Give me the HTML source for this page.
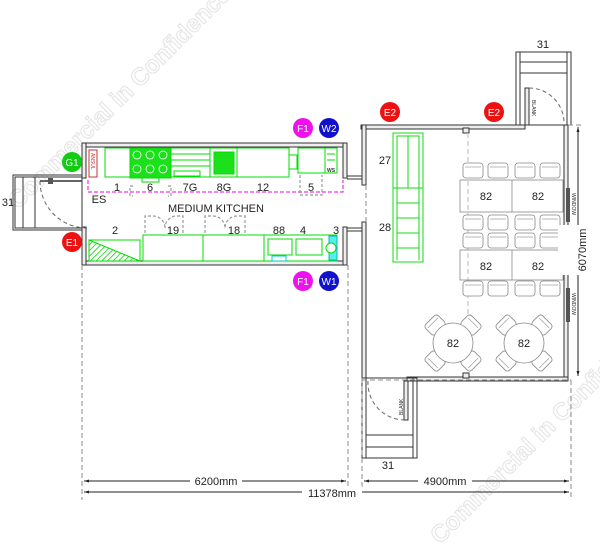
<!DOCTYPE html>
<html><head><meta charset="utf-8"><style>
html,body{margin:0;padding:0;background:#fff}
svg{display:block}
text{font-family:"Liberation Sans",Arial,sans-serif}
</style></head><body>
<svg width="600" height="552" viewBox="0 0 600 552" xmlns="http://www.w3.org/2000/svg">
<defs>
<marker id="ar" viewBox="0 0 10 10" refX="10" refY="5" markerWidth="8" markerHeight="5" orient="auto-start-reverse"><path d="M0,2 L10,5 L0,8 z" fill="#222"/></marker>
<pattern id="hat" width="4" height="4" patternUnits="userSpaceOnUse" patternTransform="rotate(45)"><line x1="0" y1="0" x2="0" y2="4" stroke="#0c0" stroke-width="1.5"/></pattern>
<g id="chair"><rect x="0" y="0" width="20" height="15" rx="3" fill="#fff" stroke="#888" stroke-width="0.8"/><line x1="2" y1="4" x2="18" y2="4" stroke="#888" stroke-width="0.6"/></g>
<g id="dchair"><rect x="-9" y="-7" width="18" height="14" rx="3" fill="#fff" stroke="#888" stroke-width="0.8"/><line x1="-7" y1="-3" x2="7" y2="-3" stroke="#888" stroke-width="0.6"/></g>
</defs>

<!-- watermarks -->
<text x="0" y="0" transform="translate(18,210) rotate(-45)" font-size="24" font-weight="bold" fill="none" stroke="#e3e3e3" stroke-width="1">Commercial in Confidence</text>
<text x="0" y="0" transform="translate(440,545) rotate(-45)" font-size="24" font-weight="bold" fill="none" stroke="#e3e3e3" stroke-width="1">Commercial in Confidence</text>

<!-- ===== KITCHEN ===== -->
<g fill="#fff" stroke="#333" stroke-width="1">
<rect x="82" y="143" width="265" height="4" fill="#eee"/>
<rect x="82" y="261" width="265" height="4" fill="#eee"/>
<rect x="82" y="143" width="4" height="35" fill="#eee"/>
<rect x="82" y="227" width="4" height="38" fill="#eee"/>
<rect x="343" y="143" width="4" height="35" fill="#eee"/>
<rect x="343" y="227" width="4" height="38" fill="#eee"/>
<line x1="347" y1="176" x2="362" y2="176"/><line x1="347" y1="179" x2="362" y2="179"/>
<line x1="347" y1="228" x2="362" y2="228"/><line x1="347" y1="231" x2="362" y2="231"/>
</g>
<!-- left stair -->
<g fill="none" stroke="#333" stroke-width="1">
<rect x="13" y="175" width="69" height="55"/>
<rect x="15" y="177" width="67" height="51"/>
<line x1="23" y1="177" x2="23" y2="228"/><line x1="35" y1="177" x2="35" y2="228"/>
<line x1="40" y1="181" x2="82" y2="181" stroke-width="1.5"/>
<path d="M40,181 A47,47 0 0 0 87,228" stroke="#666" stroke-dasharray="4,3"/>
</g>
<rect x="48" y="178" width="5" height="6" fill="#555"/>

<!-- top equipment -->
<g fill="#fff" stroke="#0d0" stroke-width="1">
<rect x="105" y="148" width="25" height="29"/>
<rect x="130" y="148" width="41" height="30" fill="#1de01d"/>
<rect x="142" y="178" width="17" height="4"/>
<rect x="171" y="148" width="39" height="29"/>
<line x1="171" y1="154" x2="210" y2="154"/><line x1="171" y1="160" x2="210" y2="160"/><line x1="171" y1="166" x2="210" y2="166"/>
<rect x="174" y="171" width="26" height="5"/>
<rect x="210" y="148" width="27" height="29"/>
<rect x="214" y="152" width="20" height="22" fill="#1de01d"/>
<rect x="237" y="148" width="52" height="29"/>
<rect x="289" y="155" width="8" height="14"/>
<rect x="298" y="148" width="27" height="25"/>
<rect x="325" y="148" width="12" height="25"/>
<line x1="327" y1="154" x2="335" y2="154"/><line x1="327" y1="160" x2="335" y2="160"/>
</g>
<g fill="none" stroke="#fff" stroke-width="0.8">
<circle cx="137" cy="155" r="4"/><circle cx="150" cy="155" r="4"/><circle cx="163" cy="155" r="4"/>
<circle cx="137" cy="169" r="4"/><circle cx="150" cy="169" r="4"/><circle cx="163" cy="169" r="4"/>
</g>
<rect x="89" y="150" width="8" height="27" fill="#fff" stroke="#c33" stroke-width="1"/>
<text x="0" y="0" transform="translate(91,153) rotate(90)" font-size="5" fill="#c33">ANSUL</text>
<text x="331" y="172" font-size="5" text-anchor="middle" fill="#333" font-weight="bold">WS</text>
<!-- pink dashed -->
<path d="M88,180 V192 H343 V180" fill="none" stroke="#e0e" stroke-width="1" stroke-dasharray="4,2"/>
<g fill="none" stroke="#999" stroke-width="1.2" stroke-dasharray="3,2">
<path d="M133,186 h-3 v10 h3"/><path d="M168,186 h3 v10 h-3"/>
<path d="M300,175 v20 h22 v-20"/>
</g>
<g font-size="11" fill="#222" text-anchor="middle">
<text x="117" y="191">1</text><text x="150" y="191">6</text><text x="190" y="191">7G</text>
<text x="224" y="191">8G</text><text x="263" y="191">12</text><text x="311" y="191">5</text>
<text x="99" y="203">ES</text>
<text x="216" y="212" font-size="11">MEDIUM KITCHEN</text>
<text x="115" y="234">2</text><text x="173" y="234">19</text><text x="234" y="234">18</text>
<text x="279" y="234">88</text><text x="303" y="234">4</text><text x="336" y="234">3</text>
</g>
<!-- door swings -->
<g fill="none" stroke="#999" stroke-width="1.2" stroke-dasharray="3,2">
<path d="M145,233 V216 H153 A12,12 0 0 1 165,228"/><path d="M183,233 V216 H175 A12,12 0 0 0 165,228"/>
<path d="M205,233 V216 H213 A12,12 0 0 1 225,228"/><path d="M245,233 V216 H237 A12,12 0 0 0 225,228"/>
</g>
<!-- bottom equipment -->
<g fill="#fff" stroke="#0d0" stroke-width="1">
<rect x="89" y="240" width="51" height="21"/>
<path d="M89,240 L140,261 L89,261 Z" fill="url(#hat)"/>
<rect x="143" y="235" width="60" height="26"/>
<rect x="203" y="235" width="61" height="26"/>
<rect x="264" y="235" width="73" height="26"/>
<rect x="268" y="239" width="24" height="16"/>
<rect x="296" y="239" width="26" height="16"/>
<rect x="329" y="236" width="8" height="24" fill="#5ee" stroke="#0bb"/>
<circle cx="331" cy="248" r="5" fill="#fff"/>
<rect x="272" y="256" width="14" height="5" stroke="#0cc"/>
</g>

<!-- circles -->
<g font-size="10" fill="#fff" text-anchor="middle">
<circle cx="72" cy="162" r="10" fill="#1c1"/><text x="72" y="166">G1</text>
<circle cx="72" cy="242" r="10" fill="#e11"/><text x="72" y="246">E1</text>
<circle cx="303" cy="128" r="10" fill="#e1e"/><text x="303" y="132">F1</text>
<circle cx="329" cy="128" r="10" fill="#11c"/><text x="329" y="132">W2</text>
<circle cx="303" cy="281" r="10" fill="#e1e"/><text x="303" y="285">F1</text>
<circle cx="329" cy="281" r="10" fill="#11c"/><text x="329" y="285">W1</text>
<circle cx="390" cy="112" r="10" fill="#e11"/><text x="390" y="116">E2</text>
<circle cx="494" cy="112" r="10" fill="#e11"/><text x="494" y="116">E2</text>
</g>

<!-- ===== DINING ===== -->
<g fill="#eee" stroke="#333" stroke-width="1">
<rect x="361" y="125" width="164" height="4"/>
<rect x="362" y="125" width="4" height="60"/>
<rect x="362" y="222" width="4" height="156"/>
<rect x="564" y="125" width="4" height="255"/>
<rect x="407" y="377" width="161" height="4"/>
<rect x="463" y="128" width="6" height="5"/>
<rect x="463" y="373" width="6" height="5"/>
</g>
<g fill="none" stroke="#333" stroke-width="1">
<rect x="516" y="52" width="55" height="73"/>
<line x1="520" y1="52" x2="520" y2="125"/><line x1="567" y1="52" x2="567" y2="125"/>
<line x1="520" y1="62" x2="567" y2="62"/><line x1="520" y1="73" x2="567" y2="73"/>
<rect x="525" y="88" width="4" height="37" fill="#eee"/>
<path d="M529,88 A35,35 0 0 1 564,123" stroke="#666" stroke-dasharray="4,3"/>
<rect x="362" y="378" width="55" height="80"/>
<line x1="366" y1="378" x2="366" y2="458"/><line x1="413" y1="378" x2="413" y2="458"/>
<line x1="366" y1="435" x2="413" y2="435"/><line x1="366" y1="447" x2="413" y2="447"/>
<rect x="404" y="381" width="4" height="39" fill="#eee"/>
<path d="M368,381 A37,37 0 0 0 404,420" stroke="#666" stroke-dasharray="4,3"/>
</g>
<text x="0" y="0" transform="translate(532,100) rotate(90)" font-size="5" fill="#333">BLANK</text>
<text x="0" y="0" transform="translate(403,415) rotate(-90)" font-size="5" fill="#333">BLANK</text>
<rect x="566" y="188" width="4" height="34" fill="#555"/>
<rect x="566" y="288" width="4" height="34" fill="#555"/>
<text x="0" y="0" transform="translate(572,193) rotate(90)" font-size="5" fill="#333">WINDOW</text>
<text x="0" y="0" transform="translate(572,293) rotate(90)" font-size="5" fill="#333">WINDOW</text>
<g stroke="#888" stroke-width="1" stroke-dasharray="5,3" fill="none">
<line x1="468" y1="133" x2="468" y2="373" stroke="#bbb"/>
<line x1="362" y1="380" x2="571" y2="380"/>
<line x1="568" y1="125" x2="584" y2="125"/>
<line x1="82" y1="265" x2="82" y2="500"/>
<line x1="348" y1="265" x2="348" y2="490"/>
<line x1="362" y1="378" x2="362" y2="490"/>
<line x1="571" y1="380" x2="571" y2="500"/>
<line x1="366" y1="185" x2="366" y2="222"/>
</g>
<g fill="#fff" stroke="#1d1" stroke-width="1">
<rect x="393" y="133" width="30" height="129"/>
<rect x="397" y="136" width="22" height="52"/>
<line x1="408" y1="136" x2="408" y2="188"/>
<line x1="393" y1="188" x2="423" y2="188"/>
<line x1="397" y1="203" x2="419" y2="203"/><line x1="397" y1="218" x2="419" y2="218"/>
<line x1="397" y1="233" x2="419" y2="233"/><line x1="397" y1="248" x2="419" y2="248"/>
<line x1="397" y1="188" x2="397" y2="260"/><line x1="419" y1="188" x2="419" y2="260"/>
</g>
<g font-size="11" fill="#222" text-anchor="middle">
<text x="385" y="164">27</text><text x="385" y="231">28</text>
</g>
<g fill="none" stroke="#888" stroke-width="0.8">
<rect x="460" y="180" width="103" height="32"/><line x1="512" y1="180" x2="512" y2="212"/>
<rect x="460" y="250" width="103" height="30"/><line x1="512" y1="250" x2="512" y2="280"/>
</g>
<use href="#chair" x="463" y="163"/><use href="#chair" x="488" y="163"/><use href="#chair" x="515" y="163"/><use href="#chair" x="540" y="163"/>
<use href="#chair" x="463" y="215"/><use href="#chair" x="488" y="215"/><use href="#chair" x="515" y="215"/><use href="#chair" x="540" y="215"/>
<use href="#chair" x="463" y="233"/><use href="#chair" x="488" y="233"/><use href="#chair" x="515" y="233"/><use href="#chair" x="540" y="233"/>
<use href="#chair" x="463" y="281"/><use href="#chair" x="488" y="281"/><use href="#chair" x="515" y="281"/><use href="#chair" x="540" y="281"/>
<g font-size="11" fill="#222" text-anchor="middle">
<text x="486" y="200">82</text><text x="538" y="200">82</text>
<text x="486" y="270">82</text><text x="538" y="270">82</text>
</g>
<g>
<use href="#dchair" transform="translate(435,325) rotate(-45)"/><use href="#dchair" transform="translate(471,325) rotate(45)"/>
<use href="#dchair" transform="translate(435,361) rotate(-135)"/><use href="#dchair" transform="translate(471,361) rotate(135)"/>
<circle cx="453" cy="343" r="20" fill="#fff" stroke="#888" stroke-width="0.8"/>
<use href="#dchair" transform="translate(506,325) rotate(-45)"/><use href="#dchair" transform="translate(542,325) rotate(45)"/>
<use href="#dchair" transform="translate(506,361) rotate(-135)"/><use href="#dchair" transform="translate(542,361) rotate(135)"/>
<circle cx="524" cy="343" r="20" fill="#fff" stroke="#888" stroke-width="0.8"/>
</g>
<g font-size="11" fill="#222" text-anchor="middle">
<text x="453" y="347">82</text><text x="524" y="347">82</text>
<text x="8" y="206">31</text><text x="543" y="48">31</text><text x="388" y="469">31</text>
</g>

<g stroke="#222" stroke-width="1" fill="none">
<line x1="578" y1="127" x2="578" y2="376" marker-start="url(#ar)" marker-end="url(#ar)"/>
<line x1="84" y1="481" x2="346" y2="481" marker-start="url(#ar)" marker-end="url(#ar)"/>
<line x1="364" y1="481" x2="569" y2="481" marker-start="url(#ar)" marker-end="url(#ar)"/>
<line x1="84" y1="492" x2="569" y2="492" marker-start="url(#ar)" marker-end="url(#ar)"/>
</g>
<g font-size="11" fill="#222" text-anchor="middle">
<rect x="558" y="225" width="40" height="50" fill="#fff"/>
<text x="0" y="0" transform="translate(586,250) rotate(-90)">6070mm</text>
<rect x="190" y="474" width="52" height="13" fill="#fff"/><text x="216" y="485">6200mm</text>
<rect x="418" y="474" width="54" height="13" fill="#fff"/><text x="445" y="485">4900mm</text>
<rect x="302" y="486" width="60" height="13" fill="#fff"/><text x="332" y="497">11378mm</text>
</g>
</svg>
</body></html>
